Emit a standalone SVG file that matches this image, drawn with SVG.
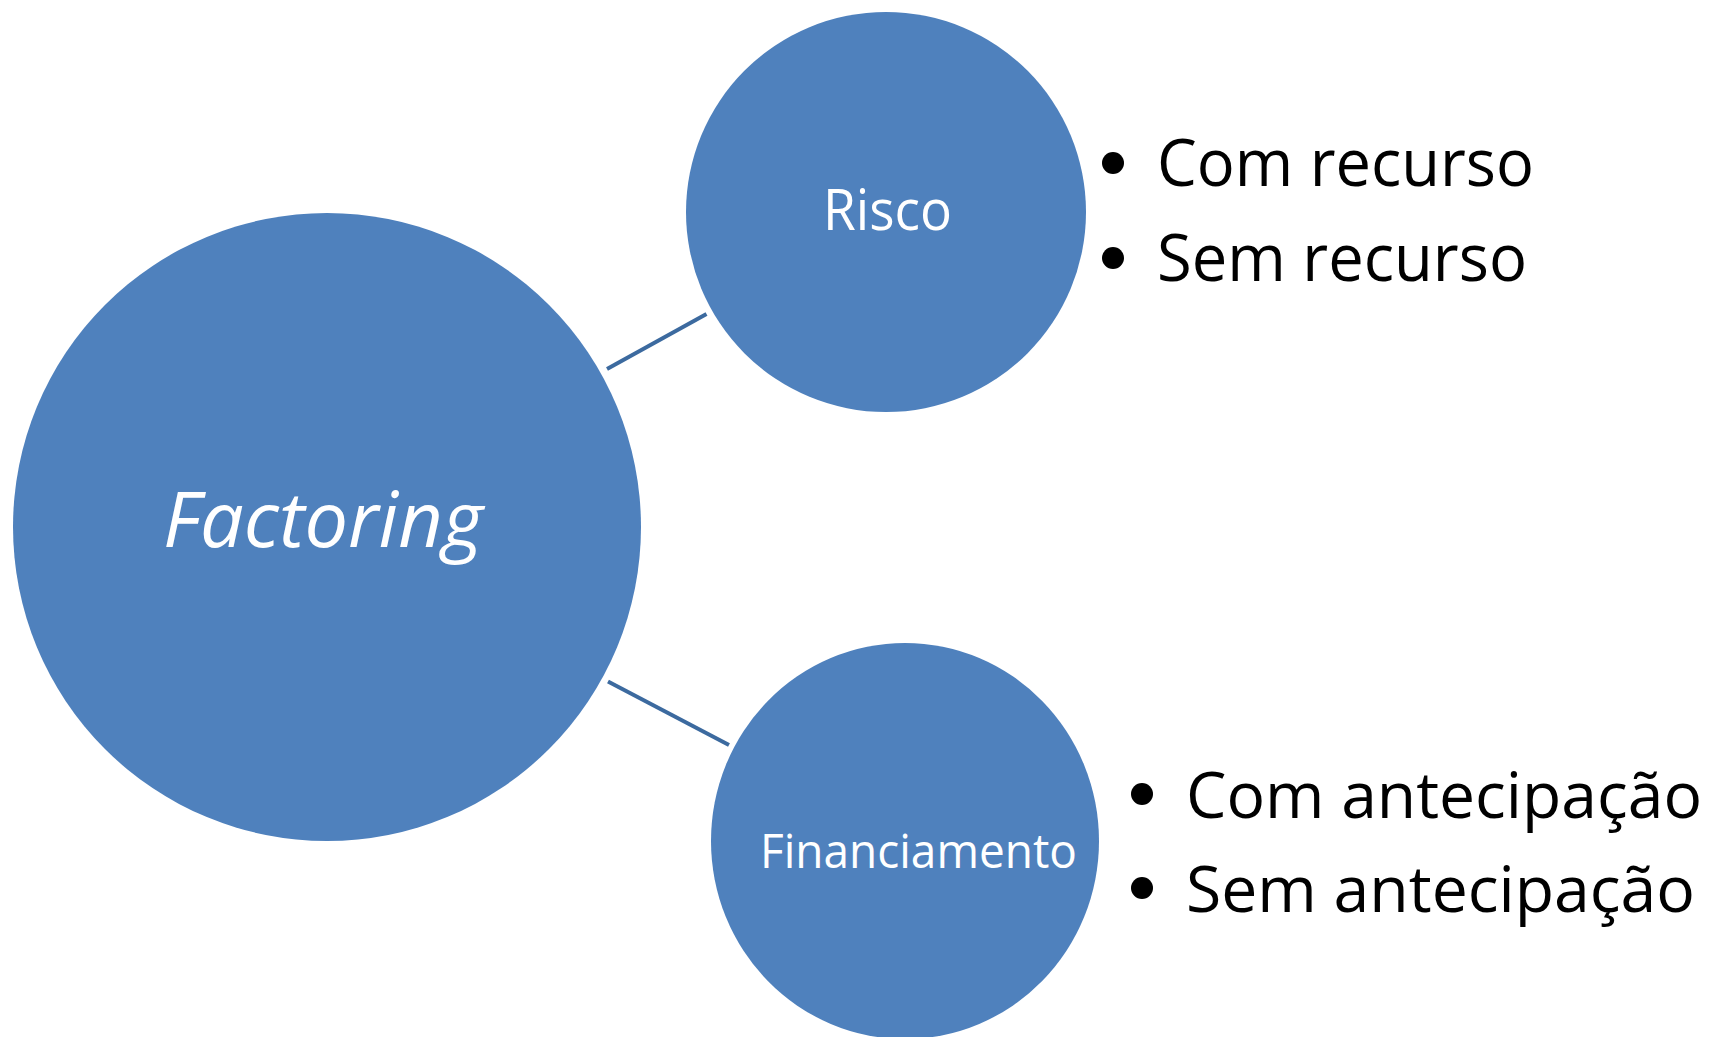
<svg xmlns="http://www.w3.org/2000/svg" width="1710" height="1037" viewBox="0 0 1710 1037">
<style>
.node{fill:#4F81BD;}
.lbl{fill:#FFFFFF;font-family:"Open Sans","Noto Sans","Liberation Sans",sans-serif;}
.item{fill:#000000;font-family:"Open Sans","Noto Sans","Liberation Sans",sans-serif;font-size:66px;}
.item2{fill:#000000;font-family:"Open Sans","Noto Sans","Liberation Sans",sans-serif;font-size:64px;}
.conn{stroke:#3C6A9F;stroke-width:4;fill:none;}
.dot{fill:#000000;}
</style>
<rect x="0" y="0" width="1710" height="1037" fill="#FFFFFF"/>
<g id="connectors">
<line class="conn" x1="607" y1="369" x2="706.5" y2="314"/>
<line class="conn" x1="608" y1="681.5" x2="729" y2="745"/>
</g>
<g id="factoring">
<circle class="node" cx="327" cy="527" r="314"/>
<text class="lbl" x="163" y="547" font-size="77" font-style="italic" textLength="320" lengthAdjust="spacingAndGlyphs">Factoring</text>
</g>
<g id="risco">
<circle class="node" cx="886" cy="212" r="200"/>
<text class="lbl" x="823" y="230" font-size="56" textLength="129" lengthAdjust="spacingAndGlyphs">Risco</text>
</g>
<g id="financiamento">
<ellipse class="node" cx="905" cy="841" rx="194" ry="198"/>
<text class="lbl" x="760" y="868" font-size="46.7" textLength="317" lengthAdjust="spacingAndGlyphs">Financiamento</text>
</g>
<g id="risco-items">
<circle class="dot" cx="1113" cy="163" r="11"/>
<text class="item" x="1157" y="186" textLength="377" lengthAdjust="spacingAndGlyphs">Com recurso</text>
<circle class="dot" cx="1113" cy="258" r="11"/>
<text class="item" x="1157" y="281" textLength="370" lengthAdjust="spacingAndGlyphs">Sem recurso</text>
</g>
<g id="financiamento-items">
<circle class="dot" cx="1142" cy="794" r="11"/>
<text class="item2" x="1186" y="818" textLength="516" lengthAdjust="spacingAndGlyphs">Com antecipação</text>
<circle class="dot" cx="1142" cy="888" r="11"/>
<text class="item2" x="1186" y="912" textLength="509" lengthAdjust="spacingAndGlyphs">Sem antecipação</text>
</g>
</svg>
